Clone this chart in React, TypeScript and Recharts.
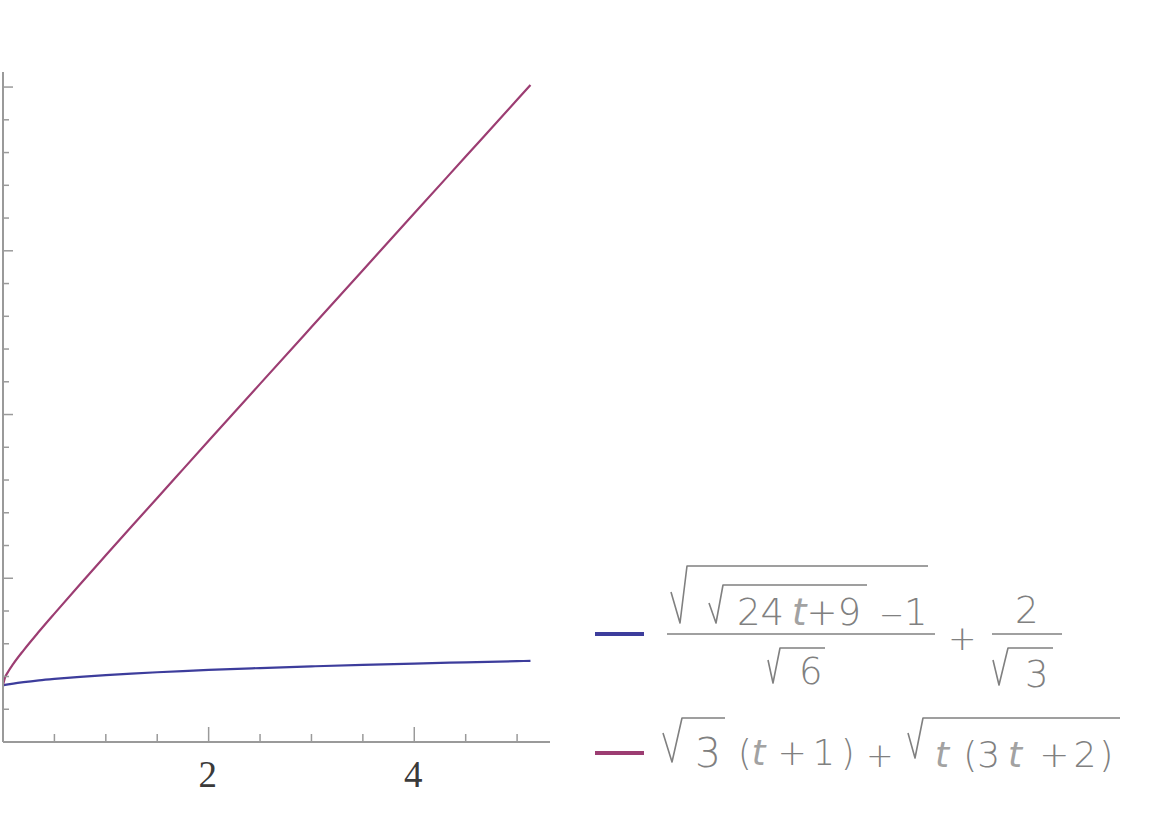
import { LineChart, Line, XAxis, YAxis, Legend } from 'recharts';

// t samples and curve values
const tValues = [0, 0.02, 0.05, 0.1, 0.2, 0.35, 0.5, 0.75, 1, 1.25, 1.5, 1.75, 2, 2.5, 3, 3.5, 4, 4.5, 5, 5.13];
const blueValues = [1.732, 1.743, 1.759, 1.784, 1.827, 1.882, 1.927, 1.991, 2.044, 2.09, 2.13, 2.166, 2.2, 2.258, 2.309, 2.355, 2.396, 2.434, 2.469, 2.477];
const purpleValues = [1.732, 1.97, 2.147, 2.385, 2.8, 3.372, 3.921, 4.817, 5.7, 6.578, 7.453, 8.325, 9.196, 10.936, 12.673, 14.409, 16.144, 17.878, 19.612, 20.063];

const xTicks = [0.5, 1, 1.5, 2, 2.5, 3, 3.5, 4, 4.5, 5];
const xLabels = [2, 4];
const yTicks = [1, 2, 3, 4, 5, 6, 7, 8, 9, 10, 11, 12, 13, 14, 15, 16, 17, 18, 19, 20];

const BLUE = '#3d3d9c';
const PURPLE = '#9c3d72';
const AXIS = '#9a9a9a';
const GREY = '#808080';

const data = tValues.map((t, i) => ({ t, blue: blueValues[i], purple: purpleValues[i] }));

function XTick(props: any) {
  const { x, y, payload } = props;
  const v = payload.value;
  const major = xLabels.includes(v);
  return (
    <g>
      <line x1={x} y1={y} x2={x} y2={y - (major ? 15 : 8)} stroke={AXIS} strokeWidth={1.5} />
      {major && (
        <text
          x={x - 1}
          y={y + 45}
          textAnchor="middle"
          style={{ fontFamily: "'Liberation Serif', 'DejaVu Serif', serif", fontSize: 37 }}
          fill="#3a3a3a"
        >
          {v}
        </text>
      )}
    </g>
  );
}

function YTick(props: any) {
  const { x, y, payload } = props;
  const major = payload.value % 5 === 0;
  return <line x1={x} y1={y} x2={x + (major ? 10 : 6)} y2={y} stroke={AXIS} strokeWidth={1.5} />;
}

const txt = { fontFamily: 'DejaVu Sans, sans-serif', fill: GREY, fontWeight: 300 } as const;
const ital = { fontStyle: 'italic', fill: '#a2a2a2' } as const;
const rad = { fill: 'none', stroke: GREY, strokeWidth: 1.6, strokeLinejoin: 'round' as const };

function FormulaLegend() {
  return (
    <svg width={560} height={230} style={{ overflow: 'visible' }}>
      <g transform="translate(-580,-560)">
        {/* first entry */}
        <line x1={595} y1={634} x2={644} y2={634} stroke={BLUE} strokeWidth={4} />
        <line x1={667} y1={634} x2={935} y2={634} stroke={GREY} strokeWidth={1.6} />
        <path d="M671 592 L680 623 L687 566 L928 566" {...rad} />
        <path d="M709 603 L716 623 L723 585 L867 585" {...rad} />
        <text x={737} y={625} fontSize={37} {...txt}>
          24<tspan dx={8} {...ital}>t</tspan>+9
        </text>
        <text x={879} y={625} fontSize={30} {...txt}>−</text>
        <text x={904} y={625} fontSize={37} {...txt}>1</text>
        <path d="M768 660 L773 683 L780 648 L825 648" {...rad} />
        <text x={799} y={684} fontSize={37} {...txt}>6</text>
        <text x={948} y={650} fontSize={34} {...txt}>+</text>
        <line x1={992} y1={634} x2={1062} y2={634} stroke={GREY} strokeWidth={1.6} />
        <text x={1015} y={623} fontSize={37} {...txt}>2</text>
        <path d="M993 660 L999 685 L1008 648 L1053 648" {...rad} />
        <text x={1025} y={687} fontSize={37} {...txt}>3</text>

        {/* second entry */}
        <line x1={595} y1={753} x2={644} y2={753} stroke={PURPLE} strokeWidth={4} />
        <path d="M663 733 L672 762 L682 718 L725 718" {...rad} />
        <text x={695} y={767} fontSize={41} {...txt}>3</text>
        <text x={738} y={765} fontSize={35} {...txt}>
          (<tspan {...ital}>t</tspan>
          <tspan dx={12}>+</tspan>
          <tspan dx={6}>1</tspan>
          <tspan dx={6}>)</tspan>
        </text>
        <text x={866} y={767} fontSize={33} {...txt}>+</text>
        <path d="M908 733 L915 758 L923 718 L1120 718" {...rad} />
        <text x={935} y={767} fontSize={36} {...txt}>
          <tspan {...ital}>t</tspan>
          <tspan dx={14}>(</tspan>
          <tspan>3</tspan>
          <tspan dx={8} {...ital}>t</tspan>
          <tspan dx={17}>+</tspan>
          <tspan dx={4}>2</tspan>
          <tspan dx={3}>)</tspan>
        </text>
      </g>
    </svg>
  );
}

export default function App() {
  return (
    <div style={{ position: 'absolute', left: 0, top: 0, width: 1152, height: 820, background: '#fff' }}>
      <LineChart width={1152} height={820} data={data} margin={{ top: 72, right: 602, bottom: 77, left: 2 }}>
        <XAxis
          dataKey="t"
          type="number"
          domain={[0, 5.32]}
          allowDataOverflow
          ticks={xTicks}
          height={1}
          tickSize={0}
          tickMargin={0}
          tickLine={false}
          tick={<XTick />}
          axisLine={{ stroke: AXIS, strokeWidth: 2 }}
          interval={0}
        />
        <YAxis
          type="number"
          domain={[0, 20.46]}
          allowDataOverflow
          ticks={yTicks}
          width={1}
          tickSize={0}
          tickMargin={0}
          tickLine={false}
          tick={<YTick />}
          axisLine={{ stroke: AXIS, strokeWidth: 2 }}
          interval={0}
        />
        <Line type="monotone" dataKey="blue" stroke={BLUE} strokeWidth={2.2} dot={false} isAnimationActive={false} />
        <Line type="monotone" dataKey="purple" stroke={PURPLE} strokeWidth={2.2} dot={false} isAnimationActive={false} />
        <Legend
          layout="vertical"
          align="center"
          verticalAlign="middle"
          content={<FormulaLegend />}
          wrapperStyle={{ left: 580, top: 560, width: 560, height: 230 }}
        />
      </LineChart>
    </div>
  );
}
